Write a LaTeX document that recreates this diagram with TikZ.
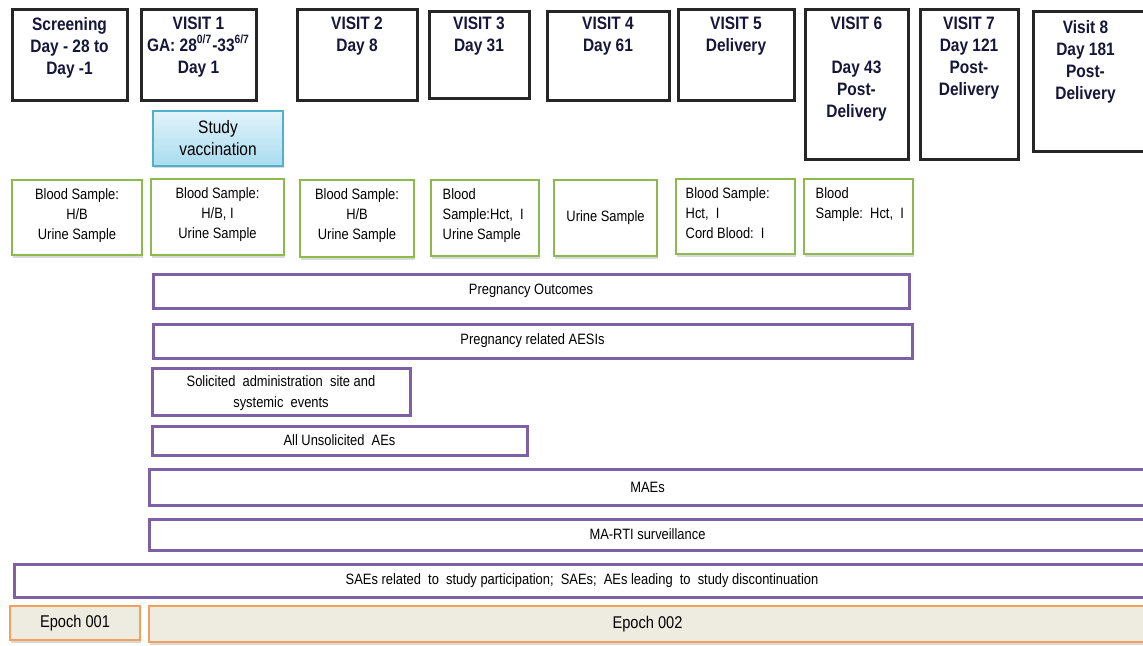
\documentclass[tikz,border=0pt]{standalone}
\usepackage{fontspec}
\setmainfont{Liberation Sans}[FakeStretch=0.86]
\usetikzlibrary{positioning}
\usetikzlibrary{fit}
\usetikzlibrary{shadows}
\definecolor{visitnavy}{HTML}{16163A}
\definecolor{samplegreen}{HTML}{8DBA4C}
\definecolor{barpurple}{HTML}{7D60A6}
\definecolor{epochorange}{HTML}{F5A05A}
\definecolor{epochfill}{HTML}{EEEBE1}
\definecolor{vacctop}{HTML}{E2F3FA}
\definecolor{vaccbot}{HTML}{A9DCEF}
\definecolor{vaccedge}{HTML}{4FB1CC}

\begin{document}
\begin{tikzpicture}
    [
    x=0.5pt, y=-0.5pt,
    visit/.style={draw=black!85, line width=1.5pt, fill=white, inner sep=0pt},
    vtext/.style={inner sep=0pt, align=center, text=visitnavy,
      font=\fontsize{9}{11}\selectfont\bfseries},
    vacc/.style={draw=vaccedge, line width=0.6pt, top color=vacctop, bottom color=vaccbot,
      inner sep=0pt,
      drop shadow={shadow xshift=0.5pt, shadow yshift=-1.2pt, opacity=0.3}},
    sample/.style={draw=samplegreen, line width=0.7pt, fill=white, inner sep=0pt,
      drop shadow={shadow xshift=0.6pt, shadow yshift=-1.3pt, opacity=0.3}},
    stext/.style={inner sep=0pt, font=\fontsize{7.5}{10}\selectfont},
    bar/.style={draw=barpurple, line width=1.5pt, fill=white, inner sep=0pt},
    btext/.style={inner sep=0pt, align=center, font=\fontsize{7.5}{10.5}\selectfont},
    epoch/.style={draw=epochorange, line width=0.8pt, fill=epochfill, inner sep=0pt,
      drop shadow={shadow xshift=0.5pt, shadow yshift=-1.3pt, opacity=0.3}},
    etext/.style={inner sep=0pt, font=\fontsize{8.5}{10}\selectfont},
    ]
    \useasboundingbox (0,0) rectangle (1143,645);
    \clip (0,0) rectangle (1143,645);

    % visits
    \node (scr) [visit, fit={(12,9.5) (127,100)}] {};
    \node (v1) [visit, fit={(141,9.5) (256,100)}] {};
    \node (v2) [visit, fit={(297,9.5) (417,100)}] {};
    \node (v3) [visit, fit={(429,11) (529,98)}] {};
    \node (v4) [visit, fit={(547,11) (669,100)}] {};
    \node (v5) [visit, fit={(678,9.5) (794,100)}] {};
    \node (v6) [visit, fit={(805,9.5) (908,159)}] {};
    \node (v7) [visit, fit={(920,9.5) (1018,159)}] {};
    \node (v8) [visit, fit={(1033,11) (1150,151)}] {};
    \node (scr-t) [vtext, below=4.3pt of scr.north] {Screening\\Day - 28 to\\Day -1};
    \node (v1-t) [vtext, below=4.3pt of v1.north]
      {VISIT 1\\GA: 28\textsuperscript{0/7}-33\textsuperscript{6/7}\\Day 1};
    \node (v2-t) [vtext, below=4.3pt of v2.north] {VISIT 2\\Day 8};
    \node (v3-t) [vtext, below=3.6pt of v3.north] {VISIT 3\\Day 31};
    \node (v4-t) [vtext, below=3.6pt of v4.north] {VISIT 4\\Day 61};
    \node (v5-t) [vtext, below=4.3pt of v5.north] {VISIT 5\\Delivery};
    \node (v6-t) [vtext, below=4.3pt of v6.north] {VISIT 6\\[11pt]Day 43\\Post-\\Delivery};
    \node (v7-t) [vtext, below=4.3pt of v7.north] {VISIT 7\\Day 121\\Post-\\Delivery};
    \node (v8-t) [vtext, below=5.4pt of v8.north, xshift=-3pt] {Visit 8\\Day 181\\Post-\\Delivery};

    \node (vac) [vacc, fit={(153,111) (283,166)}] {};
    \node (vac-t) [btext, font=\fontsize{9}{11}\selectfont] at (vac) {Study\\vaccination};

    % samples
    \node (s0) [sample, fit={(12,180) (142,255)}] {};
    \node (s1) [sample, fit={(151,179) (284,255)}] {};
    \node (s2) [sample, fit={(300,180) (414,257)}] {};
    \node (s3) [sample, fit={(431,180) (539,256)}] {};
    \node (s4) [sample, fit={(554,180) (657,256)}] {};
    \node (s5) [sample, fit={(676,179) (795,254)}] {};
    \node (s6) [sample, fit={(804,179) (913,254)}] {};
    \node (s0-t) [stext, align=center, below=4.6pt of s0.north] {Blood Sample:\\H/B\\Urine Sample};
    \node (s1-t) [stext, align=center, below=4.6pt of s1.north] {Blood Sample:\\H/B, I\\Urine Sample};
    \node (s2-t) [stext, align=center, below=4.6pt of s2.north] {Blood Sample:\\H/B\\Urine Sample};
    \node (s3-t) [stext, align=left, below right=4.6pt and 6pt of s3.north west]
      {Blood\\Sample:Hct,\ \ I\\Urine Sample};
    \node (s4-t) [stext] at (s4) {Urine Sample};
    \node (s5-t) [stext, align=left, below right=4.4pt and 5pt of s5.north west]
      {Blood Sample:\\Hct,\ \ I\\Cord Blood:\ \ I};
    \node (s6-t) [stext, align=left, below right=4.6pt and 6pt of s6.north west]
      {Blood\\Sample:\ \ Hct,\ \ I};

    % safety follow-up
    \node (po) [bar, fit={(153,274) (909,308)}] {};
    \node (aesi) [bar, fit={(153,324) (912,358)}] {};
    \node (sol) [bar, fit={(152,368) (410,415)}] {};
    \node (unsol) [bar, fit={(152,426) (527,455)}] {};
    \node (mae) [bar, fit={(149,469) (1146,505)}] {};
    \node (rti) [bar, fit={(149,519) (1146,550)}] {};
    \node (sae) [bar, fit={(14,564) (1146,597)}] {};
    \node (po-t) [btext] at (po) {Pregnancy Outcomes};
    \node (aesi-t) [btext] at (aesi) {Pregnancy related AESIs};
    \node (sol-t) [btext, yshift=-1pt] at (sol)
      {Solicited\ \ administration\ \ site and\\systemic\ \ events};
    \node (unsol-t) [btext] at (unsol) {All Unsolicited\ \ AEs};
    \node (mae-t) [btext] at (mae) {MAEs};
    \node (rti-t) [btext] at (rti) {MA-RTI surveillance};
    \node (sae-t) [btext, xshift=1pt] at (sae)
      {SAEs related\ \ to\ \ study participation;\ \ SAEs;\ \ AEs leading\ \ to\ \ study discontinuation};

    % epochs
    \node (ep1) [epoch, fit={(10,606) (140,640)}] {};
    \node (ep2) [epoch, fit={(149,606) (1146,642)}] {};
    \node (ep1-t) [etext] at (ep1) {Epoch 001};
    \node (ep2-t) [etext] at (ep2) {Epoch 002};
  \end{tikzpicture}
\end{document}
